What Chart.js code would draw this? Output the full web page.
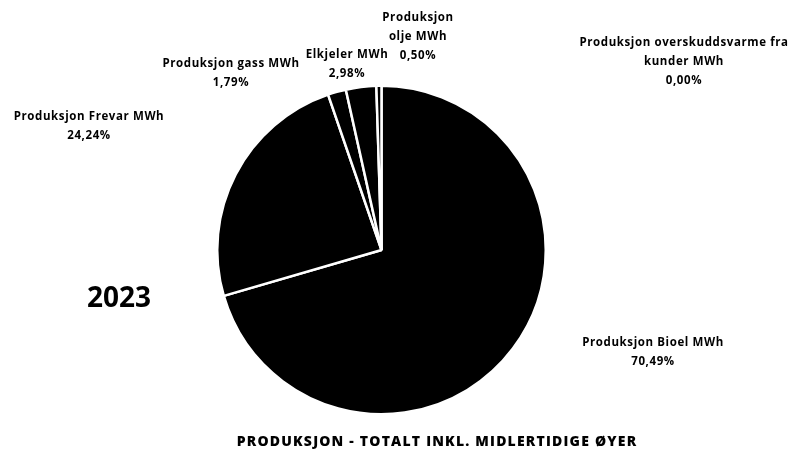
<!DOCTYPE html>
<html>
<head>
<meta charset="utf-8">
<script src="https://cdn.jsdelivr.net/npm/chart.js@4"></script>
<style>
  html, body { margin: 0; padding: 0; background: #fff; }
  #wrap { width: 790px; height: 457px; position: relative; }
</style>
</head>
<body>
<div id="wrap"><canvas id="pie" width="790" height="457"></canvas></div>
<script>
'use strict';

/* Pie of production shares 2023, drawn all black with white slice borders. */

const categories = [
  'Produksjon Bioel MWh',
  'Produksjon Frevar MWh',
  'Produksjon gass MWh',
  'Elkjeler MWh',
  'Produksjon olje MWh',
  'Produksjon overskuddsvarme fra kunder MWh',
];
const shares = [70.49, 24.24, 1.79, 2.98, 0.50, 0.00];
const shareText = ['70,49%', '24,24%', '1,79%', '2,98%', '0,50%', '0,00%'];
const yearLabel = '2023';
const chartTitle = 'PRODUKSJON - TOTALT INKL. MIDLERTIDIGE ØYER';

// Where each label block sits (centre x, first baseline y) and how its name wraps.
const labelLayout = [
  { x: 653, y: 346, lines: ['Produksjon Bioel MWh'] },
  { x: 89, y: 120, lines: ['Produksjon Frevar MWh'] },
  { x: 231, y: 67, lines: ['Produksjon gass MWh'] },
  { x: 347, y: 58, lines: ['Elkjeler MWh'] },
  { x: 418, y: 21, lines: ['Produksjon', 'olje MWh'] },
  { x: 684, y: 46, lines: ['Produksjon overskuddsvarme fra', 'kunder MWh'] },
];

const LABEL_FONT = '700 11.5px "Open Sans", sans-serif';
const LINE_H = 19;

const textPlugin = {
  id: 'textPlugin',
  afterDraw(chart) {
    const ctx = chart.ctx;
    ctx.save();
    ctx.fillStyle = '#000';
    ctx.textAlign = 'center';
    ctx.textBaseline = 'alphabetic';

    ctx.font = LABEL_FONT;
    ctx.letterSpacing = '0.6px';
    labelLayout.forEach((l, i) => {
      const lines = l.lines.concat([shareText[i]]);
      lines.forEach((t, k) => ctx.fillText(t, l.x, l.y + k * LINE_H));
    });

    ctx.letterSpacing = '0px';
    ctx.font = '700 28px "Open Sans", sans-serif';
    ctx.fillText(yearLabel, 119, 307);

    ctx.font = '800 14px "Open Sans", sans-serif';
    ctx.letterSpacing = '1.2px';
    ctx.fillText(chartTitle, 437, 446);
    ctx.restore();
  },
};

new Chart(document.getElementById('pie').getContext('2d'), {
  type: 'pie',
  data: {
    labels: categories,
    datasets: [{
      data: shares,
      backgroundColor: '#000',
      borderColor: '#fff',
      borderWidth: 2.5,
    }],
  },
  options: {
    responsive: false,
    animation: false,
    layout: { padding: { top: 84, bottom: 41, left: 216, right: 243 } },
    plugins: {
      legend: { display: false },
      tooltip: { enabled: false },
      title: { display: false },
    },
  },
  plugins: [textPlugin],
});
</script>
</body>
</html>
